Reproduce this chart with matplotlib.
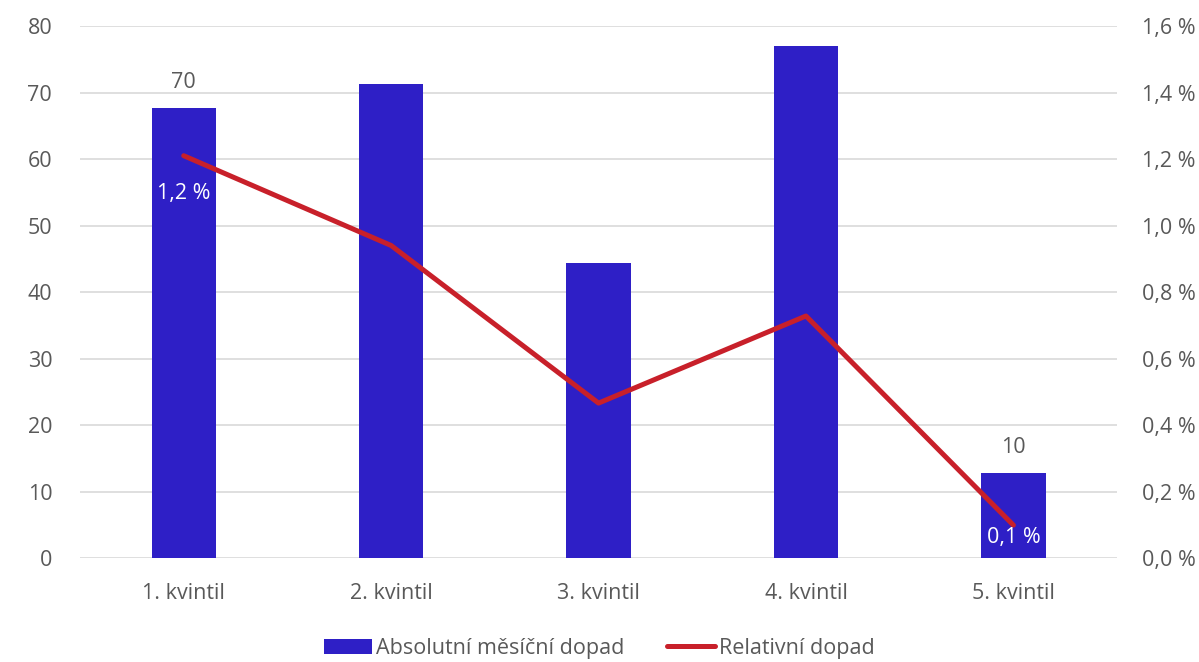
import matplotlib
matplotlib.use("Agg")
import matplotlib.pyplot as plt
import numpy as np

categories = ["1. kvintil", "2. kvintil", "3. kvintil", "4. kvintil", "5. kvintil"]
absolute = [67.7, 71.3, 44.4, 77.0, 12.8]
relative = [1.21, 0.94, 0.466, 0.728, 0.099]
bar_labels = {0: "70", 4: "10"}
line_labels = {0: "1,2 %", 4: "0,1 %"}

plt.rcParams['font.family'] = ['Open Sans', 'DejaVu Sans']
gray = "#595959"
bar_color = "#2e1fc6"
line_color = "#c8202a"
fs = 15.5

fig = plt.figure(figsize=(11.99, 6.62), dpi=100)
ax = fig.add_axes([0.0667, 0.157, 0.865, 0.8037])
x = np.arange(len(categories))
bars = ax.bar(x, absolute, width=0.31, color=bar_color, zorder=2)
ax.set_xlim(-0.5, len(categories) - 0.5)
ax.set_ylim(0, 80)
ax.set_yticks(range(0, 81, 10))
ax.grid(axis='y', color="#d9d9d9", linewidth=1.2, zorder=0)
ax.set_axisbelow(True)
for s in ax.spines.values():
    s.set_visible(False)
ax.tick_params(axis='both', length=0, labelsize=fs, labelcolor=gray)
ax.tick_params(axis='y', pad=20)
ax.tick_params(axis='x', pad=18)
ax.set_xticks(x)
ax.set_xticklabels(categories)

for i, t in bar_labels.items():
    ax.annotate(t, (x[i], absolute[i]), xytext=(0, 18), textcoords='offset points',
                ha='center', va='center', fontsize=fs, color=gray)

ax2 = ax.twinx()
ax2.set_ylim(0, 1.6)
ticks2 = np.arange(0, 1.61, 0.2)
ax2.set_yticks(ticks2)
ax2.set_yticklabels([f"{v:.1f} %".replace('.', ',') for v in ticks2])
for s in ax2.spines.values():
    s.set_visible(False)
ax2.tick_params(axis='y', length=0, labelsize=fs, labelcolor=gray, pad=18)
ln, = ax2.plot(x, relative, color=line_color, linewidth=3.6, zorder=3, solid_capstyle='round')
label_offsets = {0: -27, 4: -9}
for i, t in line_labels.items():
    ax2.annotate(t, (x[i], relative[i]), xytext=(0, label_offsets[i]), textcoords='offset points',
                 ha='center', va='center', fontsize=fs, color="white")

fig.legend(handles=[bars, ln], labels=["Absolutní měsíční dopad", "Relativní dopad"],
           loc='center', bbox_to_anchor=(0.5, 0.021), ncol=2, frameon=False,
           fontsize=fs, labelcolor=gray, handlelength=2.2, handletextpad=0.2,
           columnspacing=2.0)

fig.savefig("out.png", dpi=100)
